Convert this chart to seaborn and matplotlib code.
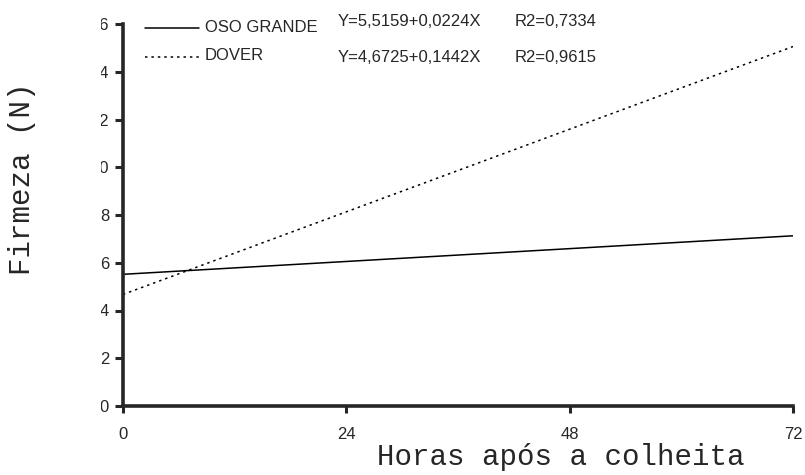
import numpy as np
import pandas as pd
import seaborn as sns
import matplotlib.pyplot as plt
from matplotlib.transforms import Bbox

# =======================
# Data
# =======================
hours = [0, 72]
cultivars = ["OSO GRANDE", "DOVER"]
intercepts = [5.5159, 4.6725]
slopes = [0.0224, 0.1442]
equations = ["Y=5,5159+0,0224X", "Y=4,6725+0,1442X"]
r2_labels = ["R2=0,7334", "R2=0,9615"]
x_ticks = [0, 24, 48, 72]
y_ticks = [0, 2, 4, 6, 8, 10, 12, 14, 16]

rows = []
for name, a, b in zip(cultivars, intercepts, slopes):
    for h in hours:
        rows.append({"Horas": h, "Firmeza": a + b * h, "Cultivar": name})
df = pd.DataFrame(rows)

# =======================
# Figure
# =======================
sns.set_style("white")
plt.rcParams['font.family'] = ['Liberation Sans', 'DejaVu Sans']

W, H = 805, 475
fig = plt.figure(figsize=(W / 100, H / 100), dpi=100)
left, right, bottom, top = 123, 793, 406, 24
ax = fig.add_axes([left / W, 1 - bottom / H, (right - left) / W, (bottom - top) / H])

styles = {"OSO GRANDE": "-", "DOVER": (0, (1.6, 2.6))}
for name in cultivars:
    sub = df[df["Cultivar"] == name]
    sns.lineplot(data=sub, x="Horas", y="Firmeza", ax=ax, color="black",
                 linewidth=1.1, linestyle=styles[name], legend=False)

ax.set_xlim(0, 72)
ax.set_ylim(0, 16)
ax.set_xticks(x_ticks)
ax.set_yticks(y_ticks)
ax.set_xticklabels([str(v) for v in x_ticks], fontsize=12)
ax.set_yticklabels([str(v) for v in y_ticks], fontsize=12)
for s in ["top", "right"]:
    ax.spines[s].set_visible(False)
for s in ["left", "bottom"]:
    ax.spines[s].set_linewidth(2.6)
ax.tick_params(axis="y", direction="out", length=6, width=2.2, pad=4, left=True)
ax.tick_params(axis="x", direction="out", length=5, width=2.2, pad=10, bottom=True)
ax.set_xlabel("")
ax.set_ylabel("")

# the y tick labels are cut on the left in the original
clip = Bbox.from_extents(101, 0, W, H)
for lab in ax.get_yticklabels():
    lab.set_clip_box(clip)
    lab.set_clip_on(True)

mono = ['Liberation Mono', 'DejaVu Sans Mono']
fig.text(561 / W, 1 - 457 / H, "Horas após a colheita", family=mono,
         fontsize=21, ha="center", va="center")
fig.text(22 / W, 1 - 179 / H, "Firmeza (N)", family=mono, fontsize=21,
         rotation=90, ha="center", va="center")

# =======================
# Legend + equations
# =======================
leg_y = [28, 57]
eq_y = [21, 57]
for i, name in enumerate(cultivars):
    fig.add_artist(plt.Line2D([145 / W, 199 / W], [1 - leg_y[i] / H] * 2,
                              color="black", linewidth=1.1, linestyle=styles[name]))
    fig.text(205 / W, 1 - (leg_y[i] - 1) / H, name, fontsize=12, va="center")
    fig.text(338 / W, 1 - eq_y[i] / H, equations[i], fontsize=12, va="center")
    fig.text(515 / W, 1 - eq_y[i] / H, r2_labels[i], fontsize=12, va="center")

fig.savefig("out.png", dpi=100)
